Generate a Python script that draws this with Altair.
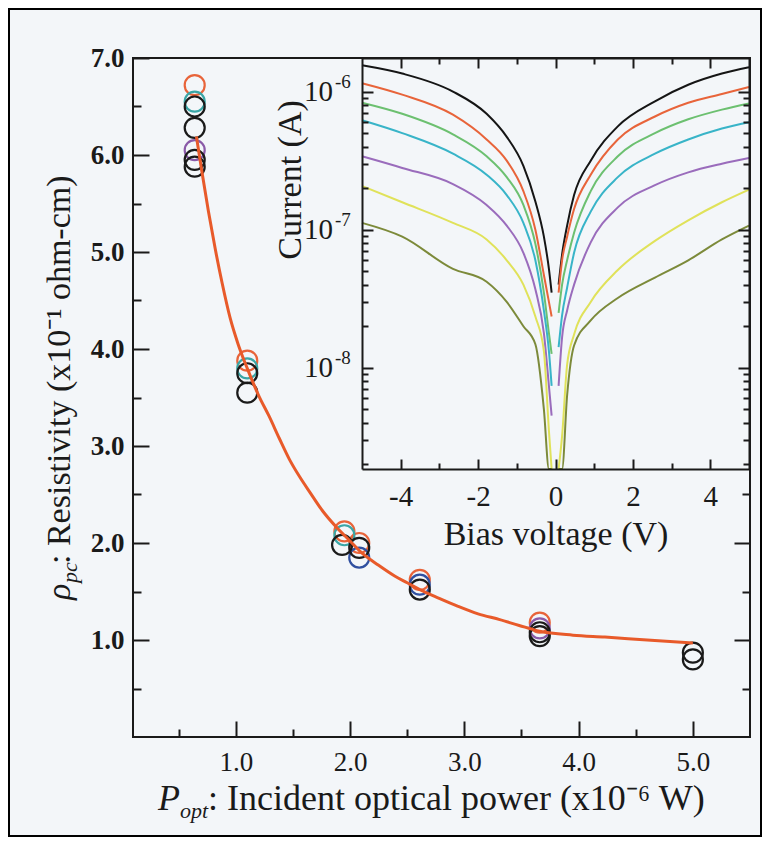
import altair as alt
import pandas as pd

FONT = "Liberation Serif"
INK = "#1a1a1a"

# ---------------- main panel data ----------------
P_OBS = [0.64, 0.64, 0.64, 0.64, 0.64, 0.64, 0.64,
         1.10, 1.10, 1.10, 1.10,
         1.95, 1.95, 1.93,
         2.08, 2.08, 2.08,
         2.61, 2.61, 2.61,
         3.66, 3.66, 3.66, 3.66,
         5.00, 5.00]
RHO_OBS = [6.72, 6.55, 6.50, 6.28, 6.05, 5.95, 5.88,
           3.88, 3.80, 3.75, 3.55,
           2.12, 2.08, 1.98,
           2.00, 1.95, 1.85,
           1.62, 1.57, 1.52,
           1.18, 1.12, 1.08, 1.04,
           0.87, 0.80]
GROUP_OBS = ["orange", "teal", "black", "black", "purple", "black", "black",
             "orange", "teal", "black", "black",
             "orange", "teal", "black",
             "orange", "black", "blue",
             "orange", "blue", "black",
             "orange", "purple", "black", "black",
             "black", "black"]
GROUPS = ["orange", "teal", "purple", "blue", "black"]
GROUP_COLORS = ["#e8643a", "#3aa6a6", "#8a5aa8", "#3050a0", "#1a1a1a"]

FIT_P = [0.655, 0.70, 0.76, 0.82, 0.88, 0.95, 1.02, 1.10, 1.20, 1.29, 1.38, 1.47,
         1.56, 1.65, 1.76, 1.875, 2.00, 2.10, 2.25, 2.39, 2.50, 2.61, 2.78, 2.94,
         3.12, 3.31, 3.48, 3.66, 3.95, 4.23, 4.60, 5.00]
FIT_RHO = [6.19, 5.85, 5.42, 5.03, 4.68, 4.32, 4.05, 3.80, 3.52, 3.31, 3.08, 2.86,
           2.68, 2.52, 2.33, 2.17, 2.02, 1.90, 1.77, 1.66, 1.59, 1.52, 1.43, 1.35,
           1.27, 1.21, 1.15, 1.09, 1.05, 1.03, 1.00, 0.97]

MAIN_X_TICKS = [0.5, 1.0, 1.5, 2.0, 2.5, 3.0, 3.5, 4.0, 4.5, 5.0]
MAIN_Y_TICKS = [0.5, 1.0, 1.5, 2.0, 2.5, 3.0, 3.5, 4.0, 4.5, 5.0, 5.5, 6.0, 6.5, 7.0]
MAIN_Y_RIGHT_TICKS = [0.5, 1.0, 1.5, 2.0, 2.5]

# ---------------- inset data ----------------
V_LEFT = [-5.0, -3.96, -2.65, -1.78, -1.26, -0.83, -0.52, -0.30, -0.17, -0.10]
V_RIGHT = [0.08, 0.17, 0.30, 0.48, 0.91, 1.61, 2.57, 3.43, 4.30, 5.0]

I_BLACK_L = [1.55e-6, 1.35e-6, 1.0e-6, 6.9e-7, 4.7e-7, 2.9e-7, 1.6e-7, 8.9e-8, 5.2e-8, 3.5e-8]
I_BLACK_R = [4.0e-8, 6.6e-8, 1.07e-7, 1.78e-7, 3.16e-7, 5.6e-7, 8.5e-7, 1.12e-6, 1.35e-6, 1.50e-6]
I_ORANGE_L = [1.15e-6, 9.5e-7, 6.8e-7, 4.5e-7, 3.16e-7, 1.9e-7, 1.0e-7, 4.7e-8, 3.0e-8, 2.35e-8]
I_ORANGE_R = [3.5e-8, 6.0e-8, 8.9e-8, 1.41e-7, 2.5e-7, 4.5e-7, 6.6e-7, 8.3e-7, 9.6e-7, 1.08e-6]
I_GREEN_L = [8.3e-7, 6.9e-7, 4.9e-7, 3.4e-7, 2.4e-7, 1.51e-7, 7.9e-8, 3.5e-8, 1.78e-8, 1.26e-8]
I_GREEN_R = [2.5e-8, 4.0e-8, 6.0e-8, 9.5e-8, 1.9e-7, 3.4e-7, 5.0e-7, 6.3e-7, 7.4e-7, 8.2e-7]
I_CYAN_L = [6.2e-7, 5.0e-7, 3.55e-7, 2.5e-7, 1.78e-7, 1.12e-7, 6.0e-8, 2.6e-8, 1.32e-8, 7.4e-9]
I_CYAN_R = [1.41e-8, 2.4e-8, 3.8e-8, 6.8e-8, 1.35e-7, 2.4e-7, 3.55e-7, 4.5e-7, 5.4e-7, 6.0e-7]
I_PURPLE_L = [3.4e-7, 2.8e-7, 2.14e-7, 1.51e-7, 1.07e-7, 6.8e-8, 3.7e-8, 1.78e-8, 7.4e-9, 4.5e-9]
I_PURPLE_R = [7.4e-9, 1.66e-8, 2.6e-8, 4.0e-8, 8.1e-8, 1.45e-7, 2.1e-7, 2.6e-7, 3.0e-7, 3.3e-7]
I_YELLOW_L = [2.07e-7, 1.58e-7, 1.12e-7, 8.5e-8, 6.0e-8, 4.0e-8, 2.35e-8, 1.32e-8, 3.5e-9, 1.0e-9]
I_YELLOW_R = [1.0e-9, 3.2e-9, 1.05e-8, 1.74e-8, 3.0e-8, 5.1e-8, 8.3e-8, 1.17e-7, 1.58e-7, 1.95e-7]
I_OLIVE_L = [1.12e-7, 8.9e-8, 5.2e-8, 4.2e-8, 3.0e-8, 2.0e-8, 1.48e-8, 5.0e-9, 1.5e-9, 1.0e-9]
I_OLIVE_R = [1.0e-9, 1.2e-9, 6.3e-9, 1.45e-8, 2.2e-8, 3.2e-8, 4.5e-8, 6.0e-8, 8.5e-8, 1.07e-7]

CURVE_NAMES = ["black", "orange", "green", "cyan", "purple", "yellow", "olive"]
CURVE_COLORS = ["#151515", "#e8643a", "#6cc070", "#38b4c8", "#9a6cbc", "#e0e25a", "#7c8a3a"]
CURVE_LEFT = [I_BLACK_L, I_ORANGE_L, I_GREEN_L, I_CYAN_L, I_PURPLE_L, I_YELLOW_L, I_OLIVE_L]
CURVE_RIGHT = [I_BLACK_R, I_ORANGE_R, I_GREEN_R, I_CYAN_R, I_PURPLE_R, I_YELLOW_R, I_OLIVE_R]

INSET_X_TICKS = [-4, -3, -2, -1, 0, 1, 2, 3, 4]
LOG_TICKS = [2e-9, 3e-9, 4e-9, 5e-9, 6e-9, 7e-9, 8e-9, 9e-9,
             1e-8, 2e-8, 3e-8, 4e-8, 5e-8, 6e-8, 7e-8, 8e-8, 9e-8,
             1e-7, 2e-7, 3e-7, 4e-7, 5e-7, 6e-7, 7e-7, 8e-7, 9e-7, 1e-6]
DECADES = [1e-8, 1e-7, 1e-6]
DECADE_BASE = ["10", "10", "10"]
DECADE_EXP = ["-8", "-7", "-6"]

# ---------------- frames ----------------
obs_df = pd.DataFrame({"P": P_OBS, "rho": RHO_OBS, "grp": GROUP_OBS})
obs_df["rank"] = obs_df["grp"].map({g: i for i, g in enumerate(GROUPS)})
obs_df = obs_df.sort_values("rank", kind="stable")
fit_df = pd.DataFrame({"P": FIT_P, "rho": FIT_RHO})

rows = []
for name, left, right in zip(CURVE_NAMES, CURVE_LEFT, CURVE_RIGHT):
    for v, i in zip(V_LEFT, left):
        rows.append({"curve": name, "branch": name + "-L", "V": v, "I": i})
    for v, i in zip(V_RIGHT, right):
        rows.append({"curve": name, "branch": name + "-R", "V": v, "I": i})
curve_df = pd.DataFrame(rows)
upper_df = curve_df[curve_df["curve"].isin(CURVE_NAMES[:5])]
lower_df = curve_df[curve_df["curve"].isin(CURVE_NAMES[5:])]
dec_df = pd.DataFrame({"dec": DECADES, "base": DECADE_BASE, "exp": DECADE_EXP})
one = pd.DataFrame({"k": [0]})

# ---------------- scales ----------------
W, H = 617, 679
INSET_LEFT, INSET_BOTTOM = 229, 411
x_main = alt.Scale(domain=[0.1, 5.5], nice=False, zero=False)
y_main = alt.Scale(domain=[0, 7], nice=False, zero=False)
x_in = alt.Scale(domain=[-5, 5], range=[INSET_LEFT, 616], nice=False, zero=False)
y_in = alt.Scale(type="log", domain=[1.85e-9, 1.75e-6], range=[INSET_BOTTOM, 0], nice=False, clamp=True)

major_half = "abs(datum.value - round(datum.value)) < 0.001"
major_even = "abs(datum.value % 2) < 0.001"
major_dec = "abs(log(datum.value)/LN10 - round(log(datum.value)/LN10)) < 0.001"

common_axis = dict(grid=False, tickColor=INK, tickWidth=2, labelColor=INK,
                   labelFont=FONT, title=None, labelOverlap=False, zindex=1)

ax_main_left = alt.Axis(orient="left", values=MAIN_Y_TICKS, domain=False,
                        labelExpr=f"{major_half} ? format(datum.value, '.1f') : ''",
                        tickSize={"condition": {"test": major_half, "value": -16}, "value": -8},
                        labelPadding=25, labelFontSize=27, labelFontWeight="bold", **common_axis)
ax_main_bottom = alt.Axis(orient="bottom", values=MAIN_X_TICKS, domain=False,
                          labelExpr=f"{major_half} ? format(datum.value, '.1f') : ''",
                          tickSize={"condition": {"test": major_half, "value": -16}, "value": -8},
                          labelPadding=28, labelFontSize=27, labelBaseline="top", **common_axis)
ax_main_right = alt.Axis(orient="right", values=MAIN_Y_RIGHT_TICKS, domain=False, labels=False,
                         tickSize={"condition": {"test": major_half, "value": -16}, "value": -8},
                         **common_axis)

dom = dict(domain=True, domainColor=INK, domainWidth=2)
ax_in_bottom = alt.Axis(orient="bottom", offset=INSET_BOTTOM - H,
                        values=INSET_X_TICKS,
                        labelExpr=f"{major_even} ? '' + datum.value : ''",
                        tickSize={"condition": {"test": major_even, "value": -10}, "value": -6},
                        labelPadding=23, labelFontSize=29, labelBaseline="top", **dom, **common_axis)
ax_in_top = alt.Axis(orient="top", offset=0, values=INSET_X_TICKS, labels=False,
                     tickSize={"condition": {"test": major_even, "value": -10}, "value": -6},
                     **dom, **common_axis)
ax_in_left = alt.Axis(orient="left", offset=-INSET_LEFT, values=LOG_TICKS, labels=False,
                      tickSize={"condition": {"test": major_dec, "value": -11}, "value": -6},
                      **dom, **common_axis)
ax_in_right = alt.Axis(orient="right", offset=-1, values=LOG_TICKS, labels=False,
                       tickSize={"condition": {"test": major_dec, "value": -11}, "value": -6},
                       **dom, **common_axis)

# ---------------- main layers ----------------
frame = alt.Chart(one).mark_rect(fillOpacity=0, stroke="black", strokeWidth=2).encode(
    x=alt.value(-124), x2=alt.value(628), y=alt.value(-49), y2=alt.value(778))

points = alt.Chart(obs_df).mark_point(shape="circle", filled=False, size=400,
                                      strokeWidth=2.2, opacity=1).encode(
    x=alt.X("P:Q", scale=x_main, axis=ax_main_bottom),
    y=alt.Y("rho:Q", scale=y_main, axis=ax_main_left),
    color=alt.Color("grp:N", scale=alt.Scale(domain=GROUPS, range=GROUP_COLORS), legend=None),
)
fit = alt.Chart(fit_df).mark_line(color="#e85a2a", strokeWidth=3, interpolate="monotone").encode(
    x=alt.X("P:Q", scale=x_main, axis=None),
    y=alt.Y("rho:Q", scale=y_main, axis=ax_main_right),
)

def txt(s, x, y, size=32, style="normal", angle=0, align="left", baseline="alphabetic"):
    return alt.Chart(one).mark_text(text=s, font=FONT, fontSize=size, fontStyle=style,
                                    angle=angle, align=align, baseline=baseline,
                                    color=INK).encode(x=alt.value(x), y=alt.value(y))

x_title = [
    txt("P", 25, 752, 36, "italic"),
    txt("opt", 47, 760, 22, "italic"),
    txt(": Incident optical power (x10\u207b\u2076 W)", 75, 752, 36),
]
y_title = [
    txt("\u03c1", -63, 542, 34, "italic", angle=270),
    txt("pc", -56, 525, 22, "italic", angle=270),
    txt(": Resistivity (x10\u207b\u00b9 ohm-cm)", -63, 506, 34, angle=270),
]

main = alt.layer(frame, points, fit, *x_title, *y_title).resolve_axis(x="independent", y="independent")

# ---------------- inset layers ----------------
curve_color = alt.Color("curve:N", scale=alt.Scale(domain=CURVE_NAMES, range=CURVE_COLORS), legend=None)
curves_a = alt.Chart(upper_df).mark_line(strokeWidth=2, interpolate="monotone").encode(
    x=alt.X("V:Q", scale=x_in, axis=ax_in_bottom),
    y=alt.Y("I:Q", scale=y_in, axis=ax_in_left),
    color=curve_color, detail="branch:N",
)
curves_b = alt.Chart(lower_df).mark_line(strokeWidth=2, interpolate="monotone").encode(
    x=alt.X("V:Q", scale=x_in, axis=ax_in_top),
    y=alt.Y("I:Q", scale=y_in, axis=ax_in_right),
    color=curve_color, detail="branch:N",
)
dec_base = alt.Chart(dec_df).mark_text(font=FONT, fontSize=29, align="right", baseline="middle",
                                       color=INK).encode(
    x=alt.value(200), y=alt.Y("dec:Q", scale=y_in, axis=None), text="base:N")
dec_exp = alt.Chart(dec_df).mark_text(font=FONT, fontSize=19, align="left", baseline="middle",
                                      dy=-10, color=INK).encode(
    x=alt.value(202), y=alt.Y("dec:Q", scale=y_in, axis=None), text="exp:N")

inset_titles = [
    txt("Current (A)", 168, 122, 34, angle=270, align="center"),
    txt("Bias voltage (V)", 423, 487, 34, align="center"),
]

inset = alt.layer(curves_a, curves_b, dec_base, dec_exp, *inset_titles).resolve_axis(
    x="independent", y="independent")

chart = alt.layer(main, inset).resolve_scale(
    x="independent", y="independent", color="independent"
).properties(
    width=W, height=H,
    padding={"left": 125, "top": 50, "right": 12, "bottom": 100},
    autosize=alt.AutoSizeParams(type="none"),
    background="#f3f6f9",
).configure_view(stroke=INK, strokeWidth=2)

chart.save("out.html", embed_options={"renderer": "svg", "actions": False})
